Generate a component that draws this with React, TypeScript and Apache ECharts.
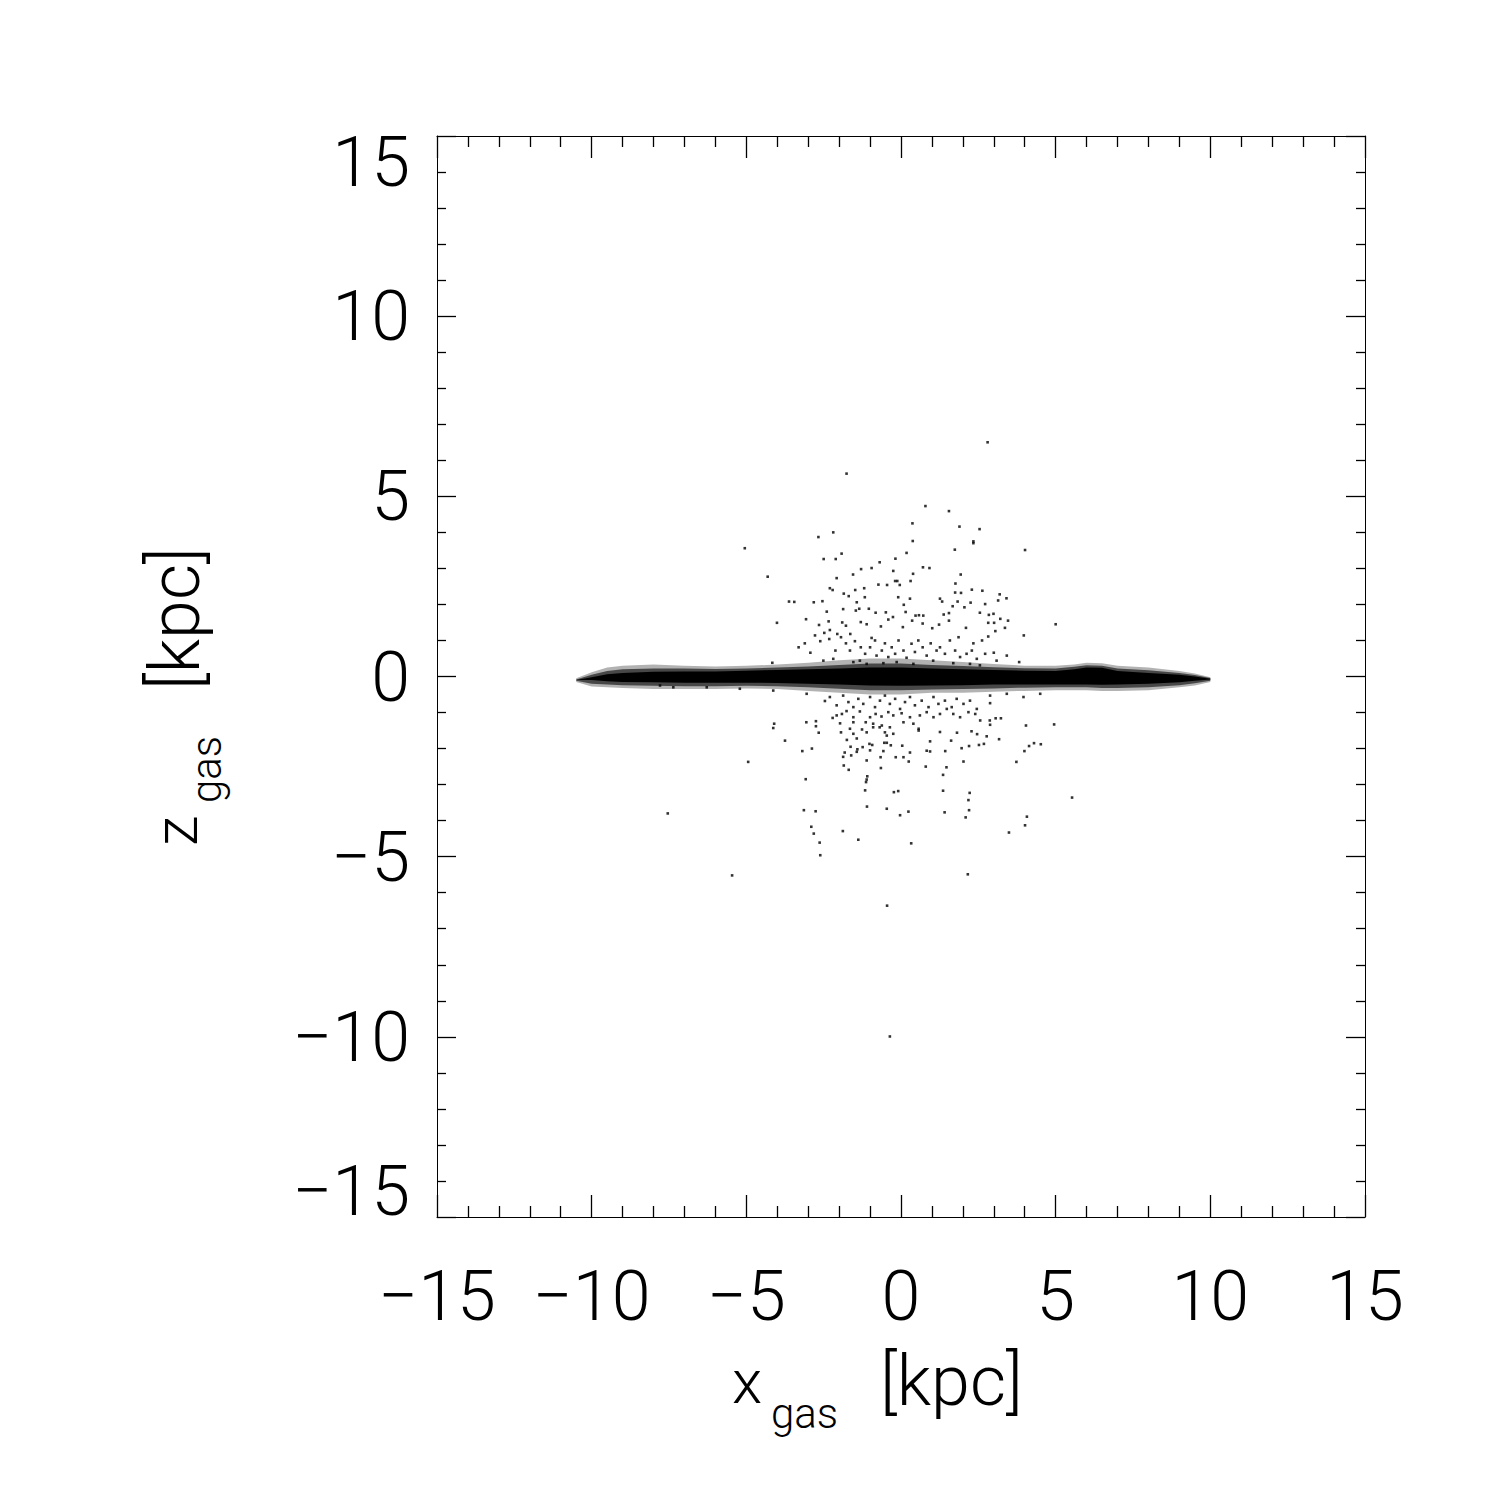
import React, { useEffect, useRef } from "react";
import * as echarts from "echarts";

// ---- axis setup ----
const axisMin = -15;
const axisMax = 15;
const axisStep = 5;

// ---- gas disk envelope, x in kpc ----
const diskX = [-10.5, -10, -9.5, -9, -8, -7, -6, -5, -4, -3, -2, -1, 0, 1, 2, 3, 4, 5, 5.6, 6, 6.5, 7, 8, 9, 9.5, 10];
const fringeTop = [-0.05, 0.12, 0.25, 0.3, 0.33, 0.3, 0.28, 0.3, 0.33, 0.38, 0.45, 0.5, 0.5, 0.45, 0.4, 0.35, 0.3, 0.3, 0.33, 0.38, 0.37, 0.3, 0.25, 0.15, 0.08, -0.02];
const fringeBottom = [-0.15, -0.28, -0.3, -0.32, -0.35, -0.35, -0.35, -0.33, -0.35, -0.4, -0.45, -0.5, -0.5, -0.45, -0.45, -0.42, -0.4, -0.38, -0.38, -0.38, -0.4, -0.4, -0.38, -0.3, -0.25, -0.15];
const midTop = [-0.08, 0.05, 0.15, 0.2, 0.22, 0.22, 0.21, 0.22, 0.25, 0.28, 0.32, 0.36, 0.36, 0.32, 0.29, 0.26, 0.23, 0.22, 0.27, 0.31, 0.3, 0.22, 0.17, 0.1, 0.04, -0.04];
const midBottom = [-0.12, -0.2, -0.22, -0.24, -0.26, -0.27, -0.27, -0.26, -0.27, -0.3, -0.34, -0.38, -0.38, -0.36, -0.35, -0.33, -0.31, -0.3, -0.3, -0.3, -0.32, -0.32, -0.3, -0.24, -0.19, -0.12];
const coreTop = [-0.1, -0.02, 0.06, 0.1, 0.13, 0.14, 0.14, 0.16, 0.18, 0.2, 0.22, 0.25, 0.25, 0.22, 0.2, 0.18, 0.16, 0.15, 0.2, 0.25, 0.24, 0.15, 0.1, 0.05, 0.0, -0.06];
const coreBottom = [-0.1, -0.1, -0.13, -0.15, -0.16, -0.17, -0.17, -0.17, -0.18, -0.2, -0.22, -0.25, -0.26, -0.25, -0.24, -0.22, -0.22, -0.22, -0.22, -0.22, -0.23, -0.22, -0.2, -0.16, -0.12, -0.08];

// ---- halo gas particles above the disk [x, z] ----
const upperHalo = [
  [2.8, 6.5], [-1.76, 5.63], [0.79, 4.73], [1.55, 4.59], [0.37, 4.25], [1.89, 4.16], [2.54, 4.09], [-2.19, 4.0],
  [-2.67, 3.87], [0.38, 3.76], [2.34, 3.75], [2.34, 3.7], [-5.05, 3.56], [4.01, 3.51], [1.74, 3.52], [-1.92, 3.41],
  [0.18, 3.43], [-2.5, 3.26], [-2.11, 3.26], [-0.18, 3.27], [-0.69, 3.17], [0.71, 3.03], [0.92, 3.01], [-0.95, 3.01],
  [-1.29, 2.98], [-0.25, 2.93], [0.39, 2.85], [-1.55, 2.83], [1.93, 2.83], [-4.31, 2.77], [-2.08, 2.73], [-0.19, 2.65],
  [-0.12, 2.65], [0.31, 2.65], [1.76, 2.58], [-0.73, 2.55], [-0.45, 2.54], [-0.04, 2.54], [-2.3, 2.45], [-2.21, 2.4],
  [2.29, 2.41], [2.63, 2.38], [-1.48, 2.4], [-1.19, 2.45], [-1.85, 2.3], [1.75, 2.33], [1.94, 2.32], [3.19, 2.28],
  [3.41, 2.17], [3.14, 2.11], [-1.69, 2.23], [-1.17, 2.2], [-0.09, 2.2], [0.29, 2.16], [1.26, 2.16], [1.33, 2.08],
  [-3.62, 2.08], [-3.45, 2.07], [-2.82, 2.06], [-2.54, 2.09], [-1.43, 2.06], [0.09, 1.99], [1.83, 2.08], [2.25, 2.05],
  [2.72, 2.01], [1.67, 1.95], [-1.87, 1.87], [-1.35, 1.88], [-1.04, 1.88], [2.05, 1.92], [-2.4, 1.8], [-1.46, 1.83],
  [-0.82, 1.77], [-0.49, 1.78], [0.15, 1.79], [2.55, 1.77], [0.47, 1.69], [0.58, 1.7], [0.72, 1.69], [1.38, 1.72],
  [1.55, 1.76], [2.99, 1.74], [2.84, 1.71], [-4.01, 1.49], [-3.07, 1.59], [-2.34, 1.53], [-0.41, 1.58], [-0.26, 1.65],
  [0.36, 1.55], [0.7, 1.47], [1.23, 1.44], [1.55, 1.55], [2.82, 1.49], [3.01, 1.49], [3.21, 1.6], [3.46, 1.55],
  [5.0, 1.45], [-2.65, 1.43], [-1.9, 1.5], [-1.78, 1.41], [-1.3, 1.51], [-1.11, 1.45], [-0.65, 1.39], [0.06, 1.37],
  [1.01, 1.34], [2.1, 1.35], [3.05, 1.26], [3.36, 1.35], [3.97, 1.14], [2.82, 1.11], [-2.48, 1.21], [-2.3, 1.29],
  [-2.78, 1.14], [-1.64, 1.18], [-2.06, 1.18], [-0.95, 1.07], [-3.11, 0.92], [-3.31, 0.81], [-2.93, 0.66], [-4.16, 0.38],
  [1.86, 1.09], [2.34, 0.92], [2.62, 1.0], [3.0, 0.66], [3.82, 0.4],
  [-2.61, 0.98], [-2.32, 1.04], [-2.12, 0.72], [-1.94, 1.09], [-1.78, 0.92], [-1.65, 0.72], [-1.49, 0.98], [-1.3, 0.81],
  [-1.16, 0.63], [-1.0, 0.81], [-0.84, 1.0], [-0.79, 0.58], [-0.62, 0.72], [-0.52, 0.92], [-0.41, 0.54], [-0.3, 0.81],
  [-0.19, 0.63], [-0.08, 1.0], [0.08, 0.72], [0.18, 0.52], [0.34, 0.91], [0.45, 0.68], [0.56, 1.0], [0.7, 0.81],
  [0.83, 0.58], [0.96, 0.92], [1.15, 0.72], [1.26, 0.81], [1.42, 0.63], [1.58, 1.0], [1.75, 0.72], [1.91, 0.54],
  [2.12, 0.63], [2.29, 0.72], [2.45, 0.49], [2.72, 0.63], [3.09, 0.44], [3.42, 0.58], [-2.51, 0.44], [-2.19, 0.49],
  [-1.54, 0.4], [-1.33, 0.44], [-1.11, 0.35], [-0.57, 0.37], [-0.14, 0.4], [0.4, 0.35], [1.04, 0.44], [1.69, 0.37],
  [2.23, 0.35], [2.55, 0.31],
];

// ---- halo gas particles below the disk [x, z] ----
const lowerHalo = [
  [-4.1, -1.31], [-4.13, -1.43], [-3.75, -1.78], [-4.94, -2.37], [-7.54, -3.8], [-5.46, -5.52], [-3.06, -1.27], [-2.75, -1.24],
  [-2.75, -1.38], [-2.66, -1.56], [-3.19, -2.07], [-2.88, -2.0], [-3.08, -2.85], [-3.14, -3.71], [-2.76, -3.74], [-2.9, -4.17],
  [-2.82, -4.36], [-2.63, -4.61], [-2.61, -4.96], [-1.88, -4.29], [-1.38, -4.53], [-1.1, -3.61], [-1.16, -3.16], [-1.11, -2.86],
  [-1.09, -2.77], [-1.13, -2.93], [-0.46, -3.67], [-0.03, -3.85], [0.24, -3.75], [-0.23, -3.21], [-0.09, -3.18], [0.33, -4.63],
  [-0.45, -6.36], [1.36, -2.73], [1.36, -3.17], [1.41, -3.77], [2.22, -3.23], [2.18, -3.43], [2.2, -3.71], [2.09, -3.91],
  [2.16, -5.49], [4.07, -3.89], [4.01, -4.13], [3.49, -4.33], [3.73, -2.37], [3.99, -2.07], [4.14, -1.93], [4.3, -1.85],
  [4.52, -1.88], [4.04, -1.36], [4.95, -1.33], [3.17, -1.74], [3.06, -1.16], [3.23, -1.16], [2.88, -0.74], [2.02, -2.36],
  [1.47, -2.52], [0.8, -2.5], [1.43, -2.07], [0.94, -2.08], [0.83, -2.06], [0.94, -1.8], [1.62, -1.78], [1.96, -1.99],
  [2.2, -1.93], [2.52, -1.9], [2.68, -1.87], [2.77, -1.66], [2.46, -1.6], [1.81, -1.56], [2.28, -1.52], [1.26, -1.54],
  [0.57, -1.5], [0.25, -2.36], [0.08, -2.24], [-0.66, -2.24], [-0.17, -2.24], [-0.65, -2.54], [-1.11, -2.33], [-1.85, -2.47],
  [-1.69, -2.59], [-1.87, -2.23], [-1.82, -2.11], [-1.43, -2.09], [-1.61, -2.19], [-1.63, -1.95], [-1.41, -2.02], [-1.24, -1.96],
  [-1.0, -2.05], [-0.93, -1.9], [-0.57, -2.07], [-0.33, -1.91], [0.04, -1.92], [0.29, -2.11], [-0.54, -1.84], [-0.46, -1.84],
  [-1.75, -1.76], [-1.43, -1.72], [-1.02, -1.87], [-1.94, -1.55], [-1.65, -1.45], [-1.54, -1.59], [-1.26, -1.47], [-1.11, -1.55],
  [-0.9, -1.41], [-0.69, -1.41], [-0.52, -1.55], [-0.46, -1.64], [-0.25, -1.59],
  [-1.97, -1.3], [-1.54, -1.27], [-1.14, -1.27], [-0.9, -1.31], [-0.62, -1.36], [-0.36, -1.41], [0.08, -1.27], [0.4, -1.31], [0.57, -1.45],
  [-0.36, -9.99], [5.53, -3.36],
  [-2.21, -1.15], [-2.08, -1.08], [-1.91, -1.04], [-1.76, -0.96], [-1.54, -1.13], [-1.33, -0.97], [-1.0, -1.13], [-0.82, -1.04],
  [-0.63, -1.11], [-0.41, -0.99], [-0.25, -1.08], [0.02, -1.02], [0.29, -1.13], [0.61, -1.08], [0.83, -0.99], [1.05, -1.13],
  [1.26, -1.04], [1.48, -0.9], [1.69, -1.04], [1.91, -1.13], [2.18, -0.99], [2.4, -1.04], [2.56, -1.22], [2.87, -1.22], [2.88, -1.34],
  [-2.46, -0.68], [-2.3, -0.57], [-2.08, -0.8], [-1.87, -0.53], [-1.7, -0.71], [-1.54, -0.85], [-1.38, -0.62], [-1.22, -0.76],
  [-1.0, -0.57], [-0.84, -0.85], [-0.68, -0.67], [-0.52, -0.53], [-0.36, -0.76], [-0.19, -0.62], [-0.03, -0.9], [0.13, -0.71],
  [0.29, -0.57], [0.45, -0.8], [0.67, -0.67], [0.89, -0.85], [1.05, -0.57], [1.21, -0.76], [1.42, -0.67], [1.64, -0.85],
  [1.8, -0.62], [2.02, -0.76], [2.23, -0.67], [2.45, -0.9], [2.88, -0.53], [3.42, -0.48], [3.96, -0.57], [4.5, -0.48],
  [-3.05, -0.48], [-4.13, -0.39], [-5.21, -0.34], [-6.28, -0.3], [-7.36, -0.3], [-7.79, -0.25],
];

const FONT = "Roboto, 'DejaVu Sans', sans-serif";

const fmt = (v: number) => (v < 0 ? "\u2212" + Math.abs(v) : String(v));

function band(api: any, top: number[], bottom: number[]) {
  const up = diskX.map((x, i) => api.coord([x, top[i]]));
  const down = diskX.map((x, i) => api.coord([x, bottom[i]])).reverse();
  return up.concat(down);
}

export default function App() {
  const ref = useRef<HTMLDivElement>(null);
  useEffect(() => {
    if (!ref.current) return;
    const chart = echarts.init(ref.current, null, { renderer: "svg" });
    const tickCommon = {
      min: axisMin,
      max: axisMax,
      interval: axisStep,
      splitLine: { show: false },
      axisLine: { show: true, onZero: false, lineStyle: { color: "#000", width: 1 } },
    };
    const xBase = {
      ...tickCommon,
      type: "value",
      axisTick: { show: true, inside: true, length: 22, lineStyle: { color: "#000", width: 1.3 } },
      minorTick: { show: true, splitNumber: 5, length: 11, lineStyle: { color: "#000", width: 1.3 } },
    };
    const yBase = {
      ...tickCommon,
      type: "value",
      axisTick: { show: true, inside: true, length: 19, lineStyle: { color: "#000", width: 1.3 } },
      minorTick: { show: true, splitNumber: 5, length: 9, lineStyle: { color: "#000", width: 1.3 } },
    };
    chart.setOption({
      animation: false,
      backgroundColor: "#fff",
      grid: { left: 437, top: 136, width: 928, height: 1081, containLabel: false, outerBoundsMode: "none" },
      xAxis: [
        {
          ...xBase,
          position: "bottom",
          axisLabel: {
            show: true,
            margin: 44,
            fontSize: 70,
            fontWeight: 300,
            fontFamily: FONT,
            color: "#000",
            showMinLabel: true,
            showMaxLabel: true,
            formatter: fmt,
          },
        },
        { ...xBase, position: "top", axisLabel: { show: false } },
      ],
      yAxis: [
        {
          ...yBase,
          position: "left",
          axisLabel: {
            show: true,
            margin: 27,
            fontSize: 70,
            lineHeight: 52,
            fontWeight: 300,
            fontFamily: FONT,
            color: "#000",
            showMinLabel: true,
            showMaxLabel: true,
            verticalAlignMinLabel: "bottom",
            verticalAlignMaxLabel: "top",
            formatter: fmt,
          },
        },
        { ...yBase, position: "right", axisLabel: { show: false } },
      ],
      series: [
        {
          type: "custom",
          xAxisIndex: 0,
          yAxisIndex: 0,
          data: [[0, 0]],
          silent: true,
          z: 1,
          renderItem: (_p: any, api: any) => ({
            type: "group",
            children: [
              { type: "polygon", shape: { points: band(api, fringeTop, fringeBottom) }, style: { fill: "rgba(0,0,0,0.3)" } },
              { type: "polygon", shape: { points: band(api, midTop, midBottom) }, style: { fill: "rgba(0,0,0,0.6)" } },
              { type: "polygon", shape: { points: band(api, coreTop, coreBottom) }, style: { fill: "#000" } },
            ],
          }),
        },
        {
          type: "scatter",
          xAxisIndex: 0,
          yAxisIndex: 0,
          data: upperHalo,
          symbol: "rect",
          symbolSize: 2.6,
          itemStyle: { color: "#000" },
          silent: true,
          z: 2,
        },
        {
          type: "scatter",
          xAxisIndex: 0,
          yAxisIndex: 0,
          data: lowerHalo,
          symbol: "rect",
          symbolSize: 2.6,
          itemStyle: { color: "#000" },
          silent: true,
          z: 2,
        },
      ],
      graphic: [
        { type: "text", x: 732, y: 1381, style: { text: "x", font: `300 62px ${FONT}`, fill: "#000", align: "left", verticalAlign: "middle" } },
        { type: "text", x: 771, y: 1413, style: { text: "gas", font: `300 42px ${FONT}`, fill: "#000", align: "left", verticalAlign: "middle" } },
        { type: "text", x: 880, y: 1381, style: { text: "[kpc]", font: `300 70px ${FONT}`, fill: "#000", align: "left", verticalAlign: "middle" } },
        { type: "text", x: 175, y: 846, rotation: Math.PI / 2, style: { text: "z", font: `300 62px ${FONT}`, fill: "#000", align: "left", verticalAlign: "middle" } },
        { type: "text", x: 206, y: 803, rotation: Math.PI / 2, style: { text: "gas", font: `300 42px ${FONT}`, fill: "#000", align: "left", verticalAlign: "middle" } },
        { type: "text", x: 175, y: 690, rotation: Math.PI / 2, style: { text: "[kpc]", font: `300 70px ${FONT}`, fill: "#000", align: "left", verticalAlign: "middle" } },
      ],
    });
    return () => chart.dispose();
  }, []);
  return <div ref={ref} style={{ position: "fixed", left: 0, top: 0, width: 1494, height: 1494 }} />;
}
